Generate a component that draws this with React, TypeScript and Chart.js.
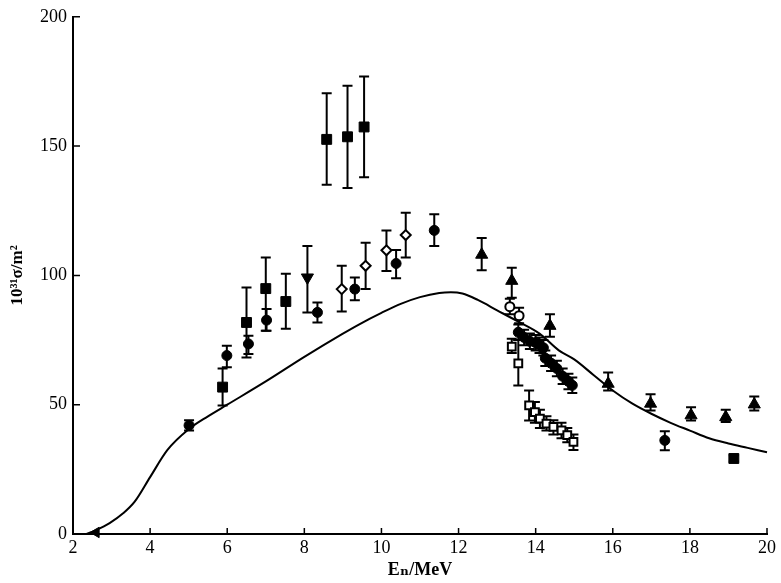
import React, { useEffect, useRef } from 'react';
import { Chart, registerables } from 'chart.js';

Chart.register(...registerables);

// Axis ticks
const xTickValues = [2, 4, 6, 8, 10, 12, 14, 16, 18, 20];
const yTickValues = [0, 50, 100, 150, 200];

// Calculated curve
const curveX = [2.35, 2.6, 2.95, 3.3, 3.6, 4.0, 4.45, 5.0, 5.5, 6.0, 7.0, 8.0, 9.0, 9.45, 10.0, 10.5, 11.0, 11.5, 11.8, 12.1, 12.5, 13.0, 13.5, 14.1, 14.6, 15.0, 15.5, 16.0, 16.5, 17.0, 17.5, 18.0, 18.5, 19.0, 19.5, 20.0];
const curveY = [0, 1.5, 4.2, 8, 12.5, 22, 32.5, 40.5, 45.5, 50, 59, 68.5, 77.5, 81.3, 85.5, 89, 91.6, 93.2, 93.5, 93, 90.5, 86.5, 82.5, 77.5, 71, 67.5, 61.5, 55.5, 50.5, 46.5, 43, 40, 37, 35, 33.3, 31.6];

// Filled squares
const sqX = [5.88, 6.5, 7.0, 7.52, 8.58, 9.12, 9.55, 19.14];
const sqY = [56.8, 81.8, 94.9, 89.9, 152.6, 153.6, 157.4, 29.2];
const sqLo = [49.7, 68.3, 78.6, 79.4, 135.1, 133.8, 138.0, 28.0];
const sqHi = [64.0, 95.3, 106.9, 100.6, 170.4, 173.3, 176.9, 30.5];

// Filled circles
const ciX = [5.01, 5.99, 6.55, 7.02, 8.34, 9.31, 10.38, 11.37, 17.35];
const ciY = [42.0, 69.0, 73.5, 82.7, 85.7, 94.7, 104.6, 117.4, 36.2];
const ciLo = [40.0, 64.5, 69.6, 78.6, 81.8, 90.4, 98.9, 111.4, 32.4];
const ciHi = [44.0, 72.8, 76.7, 87.0, 89.5, 99.2, 109.8, 123.6, 39.7];

// Filled circles, cluster near 14 MeV
const clX = [13.55, 13.7, 13.85, 14.0, 14.1, 14.2, 14.25, 14.4, 14.55, 14.7, 14.85, 14.95];
const clY = [78.0, 76.0, 74.5, 74.0, 73.0, 72.0, 68.0, 66.0, 64.0, 61.0, 59.0, 57.5];
const clLo = [75.0, 73.0, 71.5, 71.0, 70.0, 69.0, 65.0, 63.0, 61.0, 58.0, 56.0, 54.5];
const clHi = [81.0, 79.0, 77.5, 77.0, 76.0, 75.0, 71.0, 69.0, 67.0, 64.0, 62.0, 60.5];

// Open diamonds
const diX = [8.97, 9.59, 10.13, 10.63];
const diY = [94.7, 103.7, 109.7, 115.6];
const diLo = [86.0, 94.7, 101.7, 106.9];
const diHi = [103.7, 112.6, 117.4, 124.2];

// Filled down triangle
const dtX = [8.08];
const dtY = [99.2];
const dtLo = [85.7];
const dtHi = [111.4];

// Filled up triangles
const utX = [12.6, 13.38, 14.37, 15.88, 16.98, 18.03, 18.93, 19.67];
const utY = [108.0, 97.9, 80.5, 58.1, 50.4, 45.9, 45.2, 50.1];
const utLo = [102.0, 91.4, 76.3, 55.5, 47.8, 43.9, 43.3, 47.8];
const utHi = [114.5, 103.0, 85.0, 62.5, 54.0, 49.0, 48.0, 53.2];

// Open circles
const ocX = [13.33, 13.57];
const ocY = [87.9, 84.4];
const ocLo = [85.0, 81.5];
const ocHi = [91.0, 87.5];

// Open squares
const osX = [13.38, 13.55, 13.83, 13.98, 14.11, 14.28, 14.46, 14.67, 14.82, 14.98];
const osY = [72.5, 66.0, 49.7, 47.1, 44.6, 42.7, 41.4, 40.1, 38.2, 35.6];
const osLo = [70.0, 57.4, 43.9, 43.0, 41.0, 40.0, 38.5, 37.0, 35.5, 32.5];
const osHi = [75.5, 75.0, 55.5, 51.0, 48.0, 45.5, 44.0, 43.0, 41.0, 38.5];

// Threshold marker
const thX = [2.6];
const thY = [0.6];

const pts = (xs: number[], ys: number[]) => xs.map((x, i) => ({ x, y: ys[i] }));

const FONT = '"Liberation Serif", "DejaVu Serif", serif';

const errorBarPlugin = {
  id: 'errorBars',
  beforeDatasetsDraw(chart: any) {
    const { ctx, scales } = chart;
    const xs = scales.x;
    const ys = scales.y;
    chart.data.datasets.forEach((ds: any) => {
      if (!ds.errLo) return;
      ds.data.forEach((p: any, j: number) => {
        const px = xs.getPixelForValue(p.x);
        const lo = ys.getPixelForValue(ds.errLo[j]);
        const hi = ys.getPixelForValue(ds.errHi[j]);
        ctx.save();
        ctx.strokeStyle = '#000';
        ctx.lineWidth = 2;
        ctx.beginPath();
        ctx.moveTo(px, lo);
        ctx.lineTo(px, hi);
        ctx.moveTo(px - 5, lo);
        ctx.lineTo(px + 5, lo);
        ctx.moveTo(px - 5, hi);
        ctx.lineTo(px + 5, hi);
        ctx.stroke();
        ctx.restore();
      });
    });
  },
};

const innerTickPlugin = {
  id: 'innerTicks',
  afterDraw(chart: any) {
    const { ctx, scales, chartArea } = chart;
    ctx.save();
    ctx.strokeStyle = '#000';
    ctx.lineWidth = 1.5;
    ctx.beginPath();
    xTickValues.forEach((v) => {
      const px = scales.x.getPixelForValue(v);
      ctx.moveTo(px, chartArea.bottom);
      ctx.lineTo(px, chartArea.bottom - 6);
    });
    yTickValues.forEach((v) => {
      const py = scales.y.getPixelForValue(v);
      ctx.moveTo(chartArea.left, py);
      ctx.lineTo(chartArea.left + 7, py);
    });
    ctx.stroke();
    ctx.restore();
  },
};

function marker(label: string, xs: number[], ys: number[], lo: number[] | null, hi: number[] | null, style: any) {
  return {
    label,
    data: pts(xs, ys),
    errLo: lo,
    errHi: hi,
    showLine: false,
    clip: false,
    ...style,
  };
}

export default function App() {
  const ref = useRef<HTMLCanvasElement>(null);
  useEffect(() => {
    if (!ref.current) return;
    const chart = new Chart(ref.current, {
      type: 'scatter',
      data: {
        datasets: [
          {
            label: 'calc',
            data: pts(curveX, curveY),
            showLine: true,
            borderColor: '#000',
            borderWidth: 2,
            pointRadius: 0,
            cubicInterpolationMode: 'monotone',
            clip: false,
          } as any,
          marker('squares', sqX, sqY, sqLo, sqHi, { pointStyle: 'rect', pointRadius: 7, backgroundColor: '#000', borderColor: '#000', borderWidth: 1 }),
          marker('circles', ciX, ciY, ciLo, ciHi, { pointStyle: 'circle', pointRadius: 5, backgroundColor: '#000', borderColor: '#000', borderWidth: 1 }),
          marker('cluster', clX, clY, clLo, clHi, { pointStyle: 'circle', pointRadius: 5, backgroundColor: '#000', borderColor: '#000', borderWidth: 1 }),
          marker('diamonds', diX, diY, diLo, diHi, { pointStyle: 'rectRot', pointRadius: 5, backgroundColor: '#fff', borderColor: '#000', borderWidth: 2 }),
          marker('downTri', dtX, dtY, dtLo, dtHi, { pointStyle: 'triangle', pointRotation: 180, pointRadius: 7, backgroundColor: '#000', borderColor: '#000', borderWidth: 1 }),
          marker('upTri', utX, utY, utLo, utHi, { pointStyle: 'triangle', pointRadius: 7, backgroundColor: '#000', borderColor: '#000', borderWidth: 1 }),
          marker('openCircles', ocX, ocY, ocLo, ocHi, { pointStyle: 'circle', pointRadius: 4.5, backgroundColor: '#fff', borderColor: '#000', borderWidth: 2 }),
          marker('openSquares', osX, osY, osLo, osHi, { pointStyle: 'rect', pointRadius: 5.5, backgroundColor: '#fff', borderColor: '#000', borderWidth: 2 }),
          marker('threshold', thX, thY, null, null, { pointStyle: 'triangle', pointRotation: -90, pointRadius: 6, backgroundColor: '#000', borderColor: '#000', borderWidth: 1 }),
        ] as any,
      },
      options: {
        animation: false,
        responsive: false,
        devicePixelRatio: 1,
        layout: { padding: { top: 15, right: 14, left: 0, bottom: 0 } },
        plugins: {
          legend: { display: false },
          tooltip: { enabled: false },
        },
        scales: {
          x: {
            type: 'linear',
            min: 2,
            max: 20,
            afterFit: (s: any) => { s.height = 49; },
            afterBuildTicks: (s: any) => { s.ticks = xTickValues.map((v) => ({ value: v })); },
            ticks: {
              color: '#000',
              font: { family: FONT, size: 18 },
              padding: 3,
              maxRotation: 0,
              autoSkip: false,
            },
            grid: { display: false, drawTicks: false },
            border: { display: true, color: '#000', width: 2 },
            title: {
              display: true,
              text: 'Eₙ/MeV',
              color: '#000',
              font: { family: FONT, size: 18, weight: 'bold' },
              padding: { top: 0, bottom: 2 },
            },
          },
          y: {
            type: 'linear',
            min: 0,
            max: 200,
            afterFit: (s: any) => { s.width = 73; },
            afterBuildTicks: (s: any) => { s.ticks = yTickValues.map((v) => ({ value: v })); },
            ticks: {
              color: '#000',
              font: { family: FONT, size: 18 },
              padding: 6,
              autoSkip: false,
            },
            grid: { display: false, drawTicks: false },
            border: { display: true, color: '#000', width: 2 },
            title: {
              display: true,
              text: '10³¹σ/m²',
              color: '#000',
              font: { family: FONT, size: 17, weight: 'bold' },
              padding: { top: 7, bottom: 0 },
            },
          },
        },
      } as any,
      plugins: [errorBarPlugin, innerTickPlugin],
    });
    return () => chart.destroy();
  }, []);

  return (
    <div style={{ position: 'fixed', left: 0, top: 0, width: 781, height: 583, background: '#fff' }}>
      <canvas ref={ref} width={781} height={583} style={{ display: 'block' }} />
    </div>
  );
}
